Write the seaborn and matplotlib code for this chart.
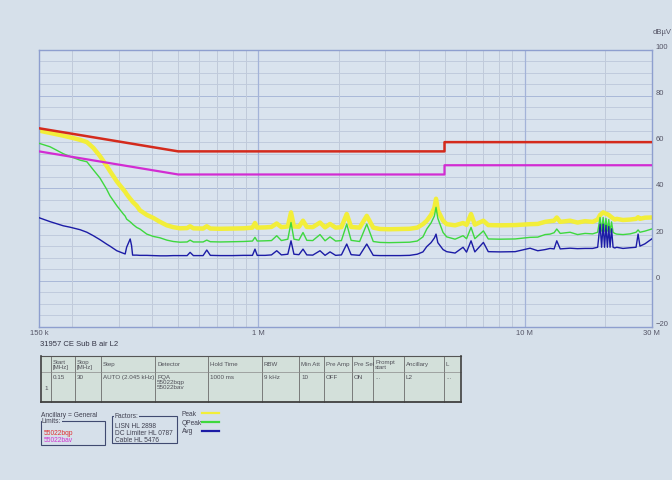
import matplotlib
matplotlib.use("Agg")
import matplotlib.pyplot as plt
import matplotlib.patches as mpatches
import matplotlib.lines as mlines
import seaborn as sns
import numpy as np

# ---------------- data ----------------
freq_mhz = [
    0.150, 0.165, 0.185, 0.196, 0.214, 0.227, 0.240, 0.254, 0.269, 0.277,
    0.294, 0.311, 0.316, 0.320, 0.330, 0.334, 0.337, 0.349, 0.359, 0.381,
    0.403, 0.427, 0.453, 0.479, 0.508, 0.540, 0.554, 0.570, 0.620, 0.640,
    0.660, 0.720, 0.800, 0.880, 0.950, 0.971, 0.990, 1.060, 1.120, 1.172,
    1.220, 1.290, 1.326, 1.360, 1.420, 1.471, 1.520, 1.600, 1.704, 1.780,
    1.858, 1.950, 2.050, 2.147, 2.230, 2.400, 2.553, 2.700, 2.864, 3.100,
    3.405, 3.700, 3.950, 4.150, 4.289, 4.450, 4.580, 4.647, 4.720, 4.938,
    5.097, 5.478, 5.870, 6.050, 6.290, 6.500, 7.000, 7.300, 8.080, 9.210,
    10.48, 11.20, 11.93, 12.46, 12.90, 13.20, 13.60, 14.81, 15.80, 16.86,
    18.00, 18.80, 19.20, 19.45, 19.71, 19.95, 20.20, 20.45, 20.70, 20.93,
    21.20, 21.48, 21.80, 22.17, 23.40, 24.90, 26.20, 26.67, 27.10, 28.30,
    30.00]

peak_dbuv = [
    65.0, 64.0, 62.8, 62.1, 61.0, 60.0, 57.5, 54.0, 49.8, 47.5,
    43.0, 39.5, 38.5, 37.5, 35.5, 34.8, 34.2, 32.5, 30.5, 28.5,
    27.2, 25.5, 24.0, 23.2, 22.7, 22.8, 23.6, 22.7, 22.6, 23.6,
    22.6, 22.5, 22.6, 22.7, 23.0, 25.0, 23.0, 23.1, 23.3, 24.8,
    23.2, 23.5, 29.6, 23.5, 23.4, 26.0, 23.3, 23.2, 25.2, 23.1,
    24.6, 23.0, 23.2, 28.9, 23.3, 23.0, 28.1, 23.0, 22.4, 22.3,
    22.4, 22.5, 23.0, 24.5, 26.0, 28.5, 31.5, 35.5, 30.5, 26.0,
    24.5, 24.0, 25.0, 24.2, 28.9, 24.3, 26.0, 24.1, 24.0, 24.1,
    24.5, 24.6, 25.5, 25.8, 26.0, 27.4, 25.5, 26.0, 25.2, 25.8,
    25.5, 26.5, 28.5, 29.0, 29.6, 29.3, 29.0, 28.8, 28.5, 28.0,
    27.5, 27.0, 26.5, 26.8, 26.3, 26.5, 26.8, 27.5, 26.8, 27.3,
    27.4]

qpeak_dbuv = [
    59.5, 58.0, 55.0, 53.8, 52.2, 51.5, 48.0, 44.5, 39.7, 36.8,
    32.5, 28.9, 28.0, 26.7, 25.5, 25.0, 24.5, 23.1, 22.4, 20.2,
    19.2, 18.6, 17.6, 17.0, 16.7, 16.8, 17.6, 16.8, 16.8, 17.6,
    16.9, 16.8, 16.9, 17.0, 17.2, 18.8, 17.2, 17.3, 17.4, 19.5,
    17.4, 18.0, 25.2, 18.0, 17.6, 20.9, 17.5, 17.4, 20.0, 17.3,
    19.0, 17.2, 17.4, 24.5, 17.5, 17.0, 24.5, 17.0, 16.6, 16.5,
    16.6, 16.7, 17.2, 19.0, 22.4, 25.0, 28.0, 31.8, 27.0, 20.9,
    19.0, 18.0, 19.5, 18.2, 23.1, 18.2, 21.6, 18.1, 18.0, 18.1,
    18.8, 18.9, 20.0, 20.2, 20.8, 22.4, 20.5, 21.0, 20.0, 20.5,
    20.3, 21.0, 27.4, 21.5, 27.4, 21.5, 27.0, 21.5, 26.5, 21.0,
    25.5, 21.0, 20.5, 20.2, 20.0, 20.3, 21.0, 22.0, 21.0, 21.5,
    22.4]

avg_dbuv = [
    27.3, 25.6, 23.8, 23.2, 22.1, 21.0, 19.5, 17.8, 15.9, 15.0,
    13.0, 11.9, 11.6, 14.5, 18.1, 15.2, 11.1, 11.1, 11.0, 11.0,
    10.9, 10.8, 10.8, 10.9, 10.9, 10.9, 12.3, 10.9, 10.9, 13.3,
    11.0, 10.9, 10.9, 11.0, 11.0, 13.7, 11.0, 11.0, 11.2, 13.0,
    11.2, 11.5, 17.3, 11.5, 11.3, 13.7, 11.2, 11.1, 13.0, 11.0,
    12.5, 11.0, 11.2, 15.9, 11.3, 11.0, 15.9, 11.0, 10.9, 10.9,
    10.9, 11.0, 11.5, 12.5, 14.8, 16.5, 18.5, 20.2, 16.5, 13.5,
    12.6, 12.0, 14.5, 12.4, 17.3, 12.5, 16.6, 12.6, 12.5, 12.6,
    14.1, 13.0, 13.5, 14.0, 13.8, 17.3, 13.8, 14.1, 13.9, 14.0,
    14.0, 14.5, 24.5, 14.5, 24.5, 14.5, 24.0, 14.5, 23.5, 14.5,
    22.5, 14.5, 14.2, 14.5, 14.0, 14.3, 14.5, 20.2, 15.0, 16.0,
    18.1]

limit_freq_mhz = [0.15, 0.5, 5.0, 5.0, 30.0]
limit_qp_dbuv = [66, 56, 56, 60, 60]
limit_av_dbuv = [56, 46, 46, 50, 50]

x_tick_vals = [0.15, 1, 10, 30]
x_tick_labels = ["150 k", "1 M", "10 M", "30 M"]
y_tick_vals = [-20, 0, 20, 40, 60, 80, 100]

table_headers = ["", "Start\n[MHz]", "Stop\n[MHz]", "Step", "Detector", "Hold Time",
                 "RBW", "Min Att", "Pre Amp", "Pre Sel", "Prompt\nstart", "Ancillary", "L"]
table_row = ["1", "0.15", "30", "AUTO (2.045 kHz)", "PQA\n55022bqp\n55022bav", "1000 ms",
             "9 kHz", "10", "OFF", "ON", "...", "L2", "..."]

# ---------------- figure ----------------
W, H = 672, 481
BG = "#d6e0ea"
plt.rcParams["font.family"] = ["Liberation Sans", "DejaVu Sans"]
fig = plt.figure(figsize=(W / 100, H / 100), dpi=100, facecolor=BG)

def fx(px):
    return px / W

def fy(py):
    return 1 - py / H

left, right, top, bottom = 39, 651.7, 50.7, 328
ax = fig.add_axes([fx(left), fy(bottom), fx(right - left), (bottom - top) / H])
ax.set_facecolor("#d9e3ee")
ax.set_xscale("log")
ax.set_xlim(0.15, 30)
ax.set_ylim(-20, 100)

# grid
for v in range(-15, 100, 5):
    dark = (v % 40 == 0)
    ax.axhline(v, color="#a9b8d8" if dark else "#c0cbdd", lw=0.7, zorder=0)
for dec in [0.1, 1, 10]:
    for m in range(2, 10):
        f = dec * m
        if 0.15 < f < 30:
            ax.axvline(f, color="#c0cada", lw=0.7, zorder=0)
for f in [1, 10]:
    ax.axvline(f, color="#a3b3d8", lw=0.9, zorder=0)

# traces
sns.lineplot(x=freq_mhz, y=peak_dbuv, ax=ax, color="#f2ee3a", lw=3.2,
             estimator=None, sort=False, legend=False, zorder=2)
sns.lineplot(x=freq_mhz, y=qpeak_dbuv, ax=ax, color="#3ed83e", lw=1.0,
             estimator=None, sort=False, legend=False, zorder=3)
sns.lineplot(x=freq_mhz, y=avg_dbuv, ax=ax, color="#1c1ca6", lw=1.0,
             estimator=None, sort=False, legend=False, zorder=4)
sns.lineplot(x=limit_freq_mhz, y=limit_qp_dbuv, ax=ax, color="#d42a1c", lw=1.8,
             estimator=None, sort=False, legend=False, zorder=5)
sns.lineplot(x=limit_freq_mhz, y=limit_av_dbuv, ax=ax, color="#d22cd2", lw=1.6,
             estimator=None, sort=False, legend=False, zorder=5)

# axes styling
for s in ax.spines.values():
    s.set_color("#8e9fcf")
    s.set_linewidth(1.0)
ax.set_xticks(x_tick_vals)
ax.set_xticklabels(x_tick_labels)
ax.xaxis.set_minor_locator(matplotlib.ticker.NullLocator())
ax.set_yticks(y_tick_vals)
ax.yaxis.tick_right()
ax.tick_params(axis="both", length=0, labelsize=5.5, labelcolor="#555566")
ax.tick_params(axis="x", pad=1.5)
ax.tick_params(axis="y", pad=3)
for lab in ax.get_yticklabels():
    lab.set_va("bottom")
ax.set_xlabel("")
ax.set_ylabel("")

fig.text(fx(653), fy(33), "dB\u00b5V", fontsize=5.5, color="#555566", va="center", ha="left")

# title line
fig.text(fx(40), fy(345), "31957 CE Sub B air L2", fontsize=5.5, color="#333344", va="center")

# ---------------- table ----------------
cols = [40.7, 50.7, 75, 101, 155, 208, 261.7, 299.3, 324, 351.7, 373.3, 404, 444, 461]
t_top, t_mid, t_bot = 357, 373, 403
cell_bg = "#d3e0da"
fig.patches.append(mpatches.Rectangle((fx(cols[0]), fy(t_bot)), fx(cols[-1] - cols[0]),
                                      (t_bot - t_top) / H, transform=fig.transFigure,
                                      facecolor=cell_bg, edgecolor="none", zorder=1))

def hline(y, x0, x1, c, lw):
    fig.add_artist(mlines.Line2D([fx(x0), fx(x1)], [fy(y), fy(y)], color=c, lw=lw,
                                 transform=fig.transFigure))

def vline(x, y0, y1, c, lw):
    fig.add_artist(mlines.Line2D([fx(x), fx(x)], [fy(y0), fy(y1)], color=c, lw=lw,
                                 transform=fig.transFigure))

for c in cols[1:-1]:
    vline(c, t_top, t_bot, "#6a6a6a", 0.6)
hline(t_mid, cols[0], cols[-1], "#8a8a8a", 0.5)
hline(t_top, cols[0], cols[-1], "#555555", 0.8)
hline(t_bot, cols[0], cols[-1], "#404040", 1.3)
vline(cols[0], t_top, t_bot, "#404040", 1.2)
vline(cols[-1], t_top, t_bot, "#404040", 1.2)

for i, txt in enumerate(table_headers):
    if txt:
        fig.text(fx(cols[i] + 2), fy((t_top + t_mid) / 2), txt, fontsize=4.4,
                 color="#505058", va="center", ha="left", linespacing=0.95)
for i, txt in enumerate(table_row):
    if i == 0:
        fig.text(fx(cols[i] + 4), fy(388), txt, fontsize=4.6, color="#505058",
                 va="center", ha="left")
    else:
        fig.text(fx(cols[i] + 2), fy(t_mid + 2), txt, fontsize=4.5, color="#505058",
                 va="top", ha="left", linespacing=0.95)

# ---------------- legend area ----------------
fig.text(fx(41), fy(415.7), "Ancillary = General", fontsize=4.8, color="#404050", va="center")
# Limits box
fig.add_artist(mpatches.Rectangle((fx(40.7), fy(445.7)), fx(105 - 40.7), (445.7 - 422) / H,
                                  transform=fig.transFigure, facecolor="none",
                                  edgecolor="#404a70", lw=0.8))
fig.text(fx(42), fy(421.7), "Limits:", fontsize=4.8, color="#404050", va="center",
         bbox=dict(facecolor=BG, edgecolor="none", pad=0.3))
fig.text(fx(44), fy(433.3), "55022bqp", fontsize=4.8, color="#e03030", va="center")
fig.text(fx(44), fy(440.7), "55022bav", fontsize=4.8, color="#d030d0", va="center")
# Factors box
fig.add_artist(mpatches.Rectangle((fx(112.3), fy(444)), fx(176.7 - 112.3), (444 - 417) / H,
                                  transform=fig.transFigure, facecolor="none",
                                  edgecolor="#404a70", lw=0.8))
fig.text(fx(114.3), fy(416.5), "Factors:", fontsize=4.8, color="#404050", va="center",
         bbox=dict(facecolor=BG, edgecolor="none", pad=0.3))
for yy, t in [(426.7, "LISN HL 2898"), (433.3, "DC Limiter HL 0787"), (440.7, "Cable HL 5476")]:
    fig.text(fx(115), fy(yy), t, fontsize=4.8, color="#404050", va="center")
# Trace legend
for yy, t, c in [(414.3, "Peak", "#f2ee3a"), (423.3, "QPeak", "#3ed83e"), (431.7, "Avg", "#1c1ca6")]:
    fig.text(fx(181.7), fy(yy), t, fontsize=4.8, color="#404050", va="center")
    hline(yy, 201.7, 219, c, 1.6)

fig.savefig("out.png", dpi=100, facecolor=BG)
